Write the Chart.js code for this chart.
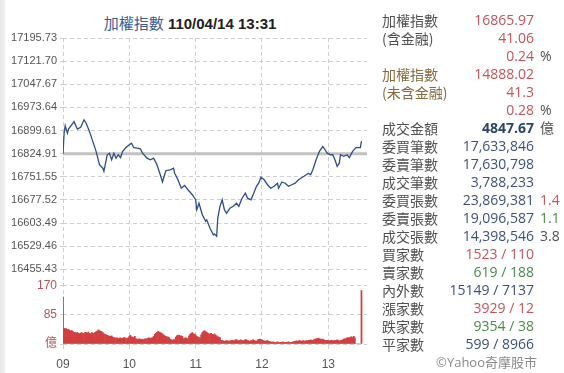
<!DOCTYPE html>
<html>
<head>
<meta charset="utf-8">
<script src="https://cdn.jsdelivr.net/npm/chart.js@4/dist/chart.umd.min.js"></script>
<style>
  html, body { margin: 0; padding: 0; }
  body {
    width: 564px; height: 373px; position: relative; overflow: hidden;
    background: linear-gradient(to right, #e8e8e8 0px, #f2f2f2 5px, #ffffff 6px);
    font-family: "Liberation Sans", "Noto Sans CJK TC", sans-serif;
  }
  #title {
    position: absolute; left: 0; width: 380px; top: 13px; height: 20px;
    text-align: center; font-size: 15px; line-height: 20px;
  }
  #title .name { color: #3b5a92; font-family: "Noto Sans CJK TC", sans-serif; }
  #title .time { color: #222; font-weight: bold; }
  #chartBox { position: absolute; left: 0; top: 0; width: 380px; height: 373px; }
  #panel { position: absolute; left: 370px; top: 11px; width: 194px; }
  .row { position: relative; height: 18px; line-height: 18px; font-size: 14px; white-space: nowrap; }
  .row .lab { position: absolute; left: 12px; font-family: "Noto Sans CJK TC", sans-serif; }
  .row .val { position: absolute; right: 30px; font-family: "Open Sans", "Noto Sans CJK TC", sans-serif; }
  .row .suf { position: absolute; left: 170px; font-family: "Open Sans", "Noto Sans CJK TC", sans-serif; }
  #copy { position: absolute; left: 370px; top: 353px; width: 167px; text-align: right;
          font-size: 13px; color: #8a8a8a; font-family: "Open Sans", "Noto Sans CJK TC", sans-serif; line-height: 18px; }
</style>
</head>
<body>
<div id="title"><span class="name">加權指數</span> <span class="time">110/04/14 13:31</span></div>
<div id="chartBox"><canvas id="tw" width="380" height="373"></canvas></div>
<div id="panel"></div>
<div id="copy">©Yahoo奇摩股市</div>
<script>
// index level, minutes after 09:00
const prevClose = 16824.91;
const priceMinutes = [0, 1, 2, 4, 5, 10, 13, 16, 19, 21, 24, 27, 30, 33, 36, 37, 40, 42, 44, 46, 48, 50, 52, 54, 57,
  60, 62, 64, 67, 70, 72, 76, 79, 82, 85, 88, 90, 93, 97, 100, 101, 104, 107, 110, 113, 117,
  120, 121, 123, 126, 129, 130, 133, 136, 137, 139, 140, 142, 144, 146, 148, 151, 154, 157, 159, 162, 165, 167,
  170, 172, 175, 177, 179, 182, 185, 188, 191, 194, 195, 198, 201, 204, 207, 210, 213, 218, 222, 224, 226, 229,
  232, 235, 237, 239, 242, 244, 246, 248, 250, 251, 254, 257, 259, 262, 265, 269, 270];
const priceValues = [16824.91, 16891, 16915, 16891, 16904, 16928, 16904, 16910, 16934, 16923, 16896, 16864, 16832, 16790, 16779, 16769, 16822, 16827, 16806, 16827, 16811, 16822, 16813, 16833, 16845,
  16854, 16859, 16845, 16843, 16841, 16827, 16811, 16806, 16811, 16790, 16758, 16735, 16771, 16774, 16779, 16763, 16742, 16715, 16724, 16710, 16694,
  16678, 16646, 16667, 16630, 16609, 16614, 16587, 16566, 16568, 16561, 16619, 16657, 16678, 16646, 16635, 16651, 16657, 16667, 16657, 16683, 16699, 16683,
  16678, 16694, 16721, 16731, 16750, 16742, 16726, 16715, 16721, 16731, 16715, 16735, 16731, 16721, 16726, 16731, 16742, 16753, 16763, 16758, 16774, 16806,
  16833, 16849, 16838, 16827, 16822, 16822, 16806, 16785, 16795, 16822, 16817, 16822, 16813, 16833, 16845, 16845, 16865.97];

// traded value per minute (億), 09:00 .. 13:30
const volumes = [137,
  46, 44, 45, 41, 43, 40, 38, 39, 36, 34,
  33, 32, 34, 31, 30, 32, 33, 31, 29, 34,
  33, 32, 35, 31, 30, 33, 32, 31, 34, 36,
  38, 41, 39, 37, 36, 33, 30, 28, 27, 25,
  24, 23, 22, 24, 20, 19, 18, 17, 18, 16,
  17, 18, 16, 17, 19, 18, 17, 16, 18, 22,
  25, 21, 20, 19, 22, 15, 14, 13, 15, 14,
  13, 14, 12, 15, 14, 16, 17, 18, 16, 17,
  19, 22, 28, 31, 34, 37, 35, 33, 32, 30,
  27, 24, 22, 21, 20, 19, 14, 12, 11, 13,
  12, 20, 24, 26, 25, 23, 24, 22, 16, 17,
  18, 17, 16, 24, 28, 31, 33, 30, 29, 27,
  22, 20, 19, 18, 27, 33, 37, 39, 36, 34,
  32, 30, 29, 31, 28, 27, 30, 26, 24, 21,
  20, 19, 11, 10, 9, 8, 9, 10, 9, 8,
  9, 10, 11, 10, 9, 12, 13, 10, 9, 11,
  12, 10, 9, 11, 13, 12, 10, 9, 8, 10,
  11, 12, 10, 9, 8, 12, 13, 14, 13, 12,
  10, 9, 8, 9, 10, 8, 7, 6, 5, 6,
  5, 4, 5, 6, 5, 4, 5, 5, 6, 5,
  4, 5, 5, 6, 5, 4, 5, 6, 7, 8,
  9, 8, 9, 10, 9, 8, 10, 9, 8, 10,
  9, 11, 10, 12, 11, 10, 13, 14, 15, 16,
  17, 15, 14, 13, 14, 12, 11, 10, 11, 10,
  9, 10, 11, 10, 9, 10, 11, 12, 10, 9,
  10, 11, 12, 14, 15, 16, 18, 19, 17, 20,
  21, 19, 22, 18, 0, 0, 0, 0, 0, 156];

const priceTicks = [16455.43, 16529.46, 16603.49, 16677.52, 16751.55, 16824.91, 16899.61, 16973.64, 17047.67, 17121.70, 17195.73];
const volTicks = [0, 85, 170];
const volTickLabels = ['億', '85', '170'];
const hourTicks = [0, 60, 120, 180, 240];
const hourLabels = ['09', '10', '11', '12', '13'];

// right-hand quote panel
const panelLabels = ['加權指數', '(含金融)', '', '加權指數', '(未含金融)', '', '成交金額', '委買筆數', '委賣筆數', '成交筆數',
  '委買張數', '委賣張數', '成交張數', '買家數', '賣家數', '內外數', '漲家數', '跌家數', '平家數'];
const panelValues = ['16865.97', '41.06', '0.24', '14888.02', '41.3', '0.28', '4847.67', '17,633,846', '17,630,798', '3,788,233',
  '23,869,381', '19,096,587', '14,398,546', '1523 / 110', '619 / 188', '15149 / 7137', '3929 / 12', '9354 / 38', '599 / 8966'];
const panelSuffix = ['', '', '%', '', '', '%', '億', '', '', '', '1.4', '1.1', '3.8', '', '', '', '', '', ''];

const RED = '#c4545a', GREEN = '#4b8a4b', NAVY = '#3c5080', GREY = '#505050', BROWN = '#86693f';
const labelColors = [GREY, GREY, GREY, BROWN, BROWN, GREY, GREY, GREY, GREY, GREY, GREY, GREY, GREY, GREY, GREY, GREY, GREY, GREY, GREY];
const valueColors = [RED, RED, RED, RED, RED, RED, '#2c4370', NAVY, NAVY, NAVY, NAVY, NAVY, NAVY, RED, GREEN, NAVY, RED, GREEN, NAVY];
const suffixColors = ['', '', GREY, '', '', GREY, GREY, '', '', '', RED, GREEN, GREY, '', '', '', '', '', ''];

const panel = document.getElementById('panel');
panelLabels.forEach((lab, i) => {
  const row = document.createElement('div');
  row.className = 'row';
  row.innerHTML = '<span class="lab" style="color:' + labelColors[i] + '">' + lab + '</span>' +
    '<span class="val" style="color:' + valueColors[i] + (i === 6 ? ';font-weight:bold' : '') + '">' + panelValues[i] + '</span>' +
    '<span class="suf" style="color:' + (suffixColors[i] || GREY) + '">' + panelSuffix[i] + '</span>';
  panel.appendChild(row);
});

const gridColor = '#cfcfcf';

new Chart(document.getElementById('tw'), {
  type: 'line',
  data: {
    datasets: [
      {
        label: '平盤',
        data: [{x: 0, y: prevClose}, {x: 275, y: prevClose}],
        yAxisID: 'y',
        borderColor: '#c2c2c2',
        borderWidth: 3,
        pointRadius: 0,
        order: 2
      },
      {
        label: '加權指數',
        data: priceMinutes.map((m, i) => ({x: m, y: priceValues[i]})),
        yAxisID: 'y',
        borderColor: '#2d4d8c',
        borderWidth: 1.3,
        pointRadius: 0,
        tension: 0,
        order: 1
      },
      {
        type: 'bar',
        label: '成交金額',
        data: volumes.map((v, i) => ({x: i, y: v})),
        yAxisID: 'yv',
        backgroundColor: '#d23f3f',
        borderWidth: 0,
        barPercentage: 1,
        categoryPercentage: 1,
        order: 3
      }
    ]
  },
  options: {
    responsive: false,
    animation: false,
    layout: { padding: { top: 38, right: 13, left: 0, bottom: 0 } },
    plugins: { legend: { display: false }, tooltip: { enabled: false } },
    scales: {
      x: {
        type: 'linear',
        min: 0,
        max: 275,
        offset: false,
        afterFit: s => { s.height = 29; },
        afterBuildTicks: s => { s.ticks = hourTicks.map(v => ({value: v})); },
        ticks: {
          color: '#555',
          font: { size: 12, family: 'Liberation Sans' },
          padding: 8,
          maxRotation: 0,
          autoSkip: false,
          callback: (v) => hourLabels[hourTicks.indexOf(v)]
        },
        grid: { color: gridColor, tickLength: 5, offset: false },
        border: { display: false, dash: [4, 3] }
      },
      y: {
        type: 'linear',
        position: 'left',
        stack: 'main',
        stackWeight: 239.5,
        weight: 2,
        min: 16429.2,
        max: 17195.73,
        afterFit: s => { s.width = 63; },
        afterBuildTicks: s => { s.ticks = priceTicks.map(v => ({value: v})); },
        ticks: {
          color: '#555',
          font: { size: 11, family: 'Liberation Sans' },
          padding: 3,
          autoSkip: false,
          callback: v => v.toFixed(2)
        },
        grid: { color: gridColor, tickLength: 3 },
        border: { display: false, dash: [4, 3] }
      },
      yv: {
        type: 'linear',
        position: 'left',
        stack: 'main',
        stackWeight: 66.5,
        weight: 1,
        min: 0,
        max: 193.9,
        afterFit: s => { s.width = 63; },
        afterBuildTicks: s => { s.ticks = volTicks.map(v => ({value: v})); },
        ticks: {
          color: '#b4575a',
          font: { size: 12, family: 'Liberation Sans, Noto Sans CJK TC' },
          padding: 3,
          autoSkip: false,
          callback: v => volTickLabels[volTicks.indexOf(v)]
        },
        grid: { color: gridColor, tickLength: 3 },
        border: { display: false, dash: [4, 3] }
      }
    }
  }
});
</script>
</body>
</html>
